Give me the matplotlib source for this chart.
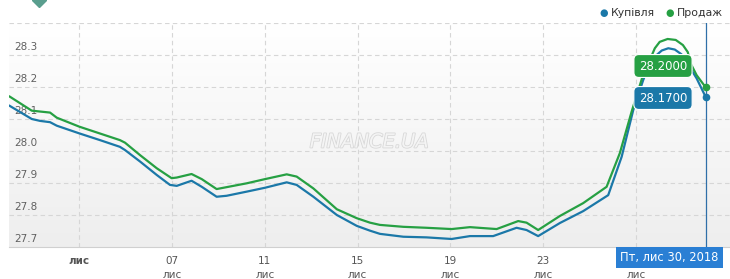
import numpy as np
import matplotlib
matplotlib.use("Agg")
import matplotlib.pyplot as plt
from matplotlib.patches import Rectangle
import matplotlib.patheffects as pe

# day of November (0 = Oct 31)
buy_days = [0.0, 0.95, 1.31, 1.74, 2.03, 3.0, 3.89, 4.75, 4.97, 5.62, 6.34, 6.91,
            7.2, 7.84, 8.28, 8.92, 9.35, 10.22, 11.0, 11.94, 12.37, 13.09, 14.1,
            14.96, 15.53, 15.96, 16.97, 17.97, 19.05, 19.84, 20.84, 21.85, 22.28,
            22.78, 23.72, 24.72, 25.8, 26.38, 26.88, 27.31, 27.59, 27.89, 28.11,
            28.39, 28.67, 28.96, 29.18, 29.61, 30.0]
buy = [28.142, 28.101, 28.095, 28.091, 28.080, 28.056, 28.035, 28.014, 28.004,
       27.968, 27.926, 27.895, 27.892, 27.908, 27.889, 27.858, 27.861, 27.874,
       27.886, 27.903, 27.895, 27.858, 27.801, 27.767, 27.752, 27.742, 27.733,
       27.731, 27.726, 27.735, 27.735, 27.761, 27.754, 27.735, 27.776, 27.813,
       27.863, 27.983, 28.129, 28.223, 28.273, 28.301, 28.315, 28.322, 28.318,
       28.303, 28.279, 28.228, 28.170]

sell_days = [0.0, 0.95, 1.74, 2.03, 3.0, 4.75, 4.97, 5.62, 6.34, 6.98, 7.2, 7.84,
             8.28, 8.92, 10.22, 11.0, 11.94, 12.37, 13.09, 14.1, 14.96, 15.53,
             15.96, 16.97, 17.97, 19.05, 19.84, 20.99, 21.92, 22.28, 22.78, 23.72,
             24.72, 25.73, 26.3, 26.81, 27.3, 27.59, 27.81, 28.02, 28.36, 28.71,
             29.02, 29.23, 29.35, 29.61, 30.0]
sell = [28.171, 28.127, 28.121, 28.105, 28.077, 28.035, 28.027, 27.988, 27.947,
        27.916, 27.918, 27.929, 27.913, 27.882, 27.900, 27.913, 27.928, 27.921,
        27.884, 27.819, 27.791, 27.777, 27.770, 27.764, 27.761, 27.757, 27.763,
        27.757, 27.782, 27.777, 27.754, 27.798, 27.838, 27.889, 27.994, 28.124,
        28.238, 28.285, 28.322, 28.342, 28.351, 28.348, 28.332, 28.310, 28.275,
        28.238, 28.200]

tick_days = [3, 7, 11, 15, 19, 23, 27]
tick_top = ["лис", "07", "11", "15", "19", "23", ""]
y_ticks = [27.7, 27.8, 27.9, 28.0, 28.1, 28.2, 28.3]

BLUE = "#1b78a8"
GREEN = "#26a043"

fig = plt.figure(figsize=(7.3, 2.79), dpi=100)
ax = fig.add_axes([9 / 730, 31.7 / 279, 721 / 730, 224 / 279])
ax.set_xlim(-0.03, 31.05)
ax.set_ylim(27.7, 28.4)

# soft gradient background
grad = np.linspace(0, 1, 256).reshape(-1, 1)
ax.imshow(grad, cmap=matplotlib.colors.LinearSegmentedColormap.from_list(
    "bg", ["#eeeeee", "#ffffff"]), extent=[0, 1, 0, 1], transform=ax.transAxes,
    aspect="auto", origin="lower", zorder=0)

for v in np.arange(27.8, 28.45, 0.1):
    ax.axhline(v, color="#d6d6d6", lw=0.8, ls=(0, (4, 3)), zorder=1)
for d in tick_days:
    ax.axvline(d, color="#d6d6d6", lw=0.8, ls=(0, (4, 3)), zorder=1)

for s in ["top", "right", "left"]:
    ax.spines[s].set_visible(False)
ax.spines["bottom"].set_color("#d0d0d0")
ax.set_xticks([])
ax.set_yticks([])

for v in y_ticks:
    ax.annotate(f"{v:.1f}", (0, v), xycoords=("axes fraction", "data"),
                xytext=(4, 4), textcoords="offset points", fontsize=7.5,
                color="#606060", zorder=2)

for d, t in zip(tick_days, tick_top):
    bold = t == "лис"
    if t:
        ax.annotate(t, (d, 27.7), xytext=(0, -6), textcoords="offset points",
                    ha="center", va="top", fontsize=7.5, color="#555555",
                    fontweight="bold" if bold else "normal",
                    annotation_clip=False)
    if not bold:
        ax.annotate("лис", (d, 27.7), xytext=(0, -16), textcoords="offset points",
                    ha="center", va="top", fontsize=7.5, color="#555555",
                    annotation_clip=False)

ax.text(0.5, 0.47, "FINANCE.UA", transform=ax.transAxes, ha="center", va="center",
        fontsize=14, style="italic", color="#f4f4f4", zorder=2,
        path_effects=[pe.withStroke(linewidth=1.2, foreground="#d8d8d8")])

ax.plot(buy_days, buy, color=BLUE, lw=1.6, zorder=4, solid_joinstyle="round")
ax.plot(sell_days, sell, color=GREEN, lw=1.6, zorder=4, solid_joinstyle="round")
ax.plot([30], [buy[-1]], "o", color=BLUE, ms=4.5, zorder=5)
ax.plot([30], [sell[-1]], "o", color=GREEN, ms=4.5, zorder=5)

# crosshair
ax.axvline(30, color="#2f6fa8", lw=0.9, zorder=3)

# value flags
fig.text(663 / 730, 1 - 66 / 279, f"{sell[-1]:.4f}", ha="center", va="center",
         fontsize=8.5, color="white",
         bbox=dict(boxstyle="round,pad=0.42", fc=GREEN, ec="white", lw=0.8))
fig.text(663 / 730, 1 - 98 / 279, f"{buy[-1]:.4f}", ha="center", va="center",
         fontsize=8.5, color="white",
         bbox=dict(boxstyle="round,pad=0.42", fc=BLUE, ec="white", lw=0.8))

# date tooltip
fig.add_artist(Rectangle((616 / 730, 1 - 268 / 279), 107 / 730, 21 / 279,
                         transform=fig.transFigure, fc="#2a7fd4", ec="none",
                         zorder=5))
fig.text(669.5 / 730, 1 - 258 / 279, "Пт, лис 30, 2018", ha="center",
         va="center", fontsize=8.3, color="white", zorder=6)

# legend
fig.text(604 / 730, 1 - 13 / 279, "●", ha="center", va="center", fontsize=7,
         color=BLUE)
fig.text(611 / 730, 1 - 13 / 279, "Купівля", ha="left", va="center",
         fontsize=7.8, color="#333333")
fig.text(670 / 730, 1 - 13 / 279, "●", ha="center", va="center", fontsize=7,
         color=GREEN)
fig.text(677 / 730, 1 - 13 / 279, "Продаж", ha="left", va="center",
         fontsize=7.8, color="#333333")

# diamond cut at the top edge
fig.add_artist(plt.Line2D([39 / 730], [1.0], marker="D", ms=7,
                          color="#5a9e8e", lw=0))

fig.savefig("out.png", dpi=100)
